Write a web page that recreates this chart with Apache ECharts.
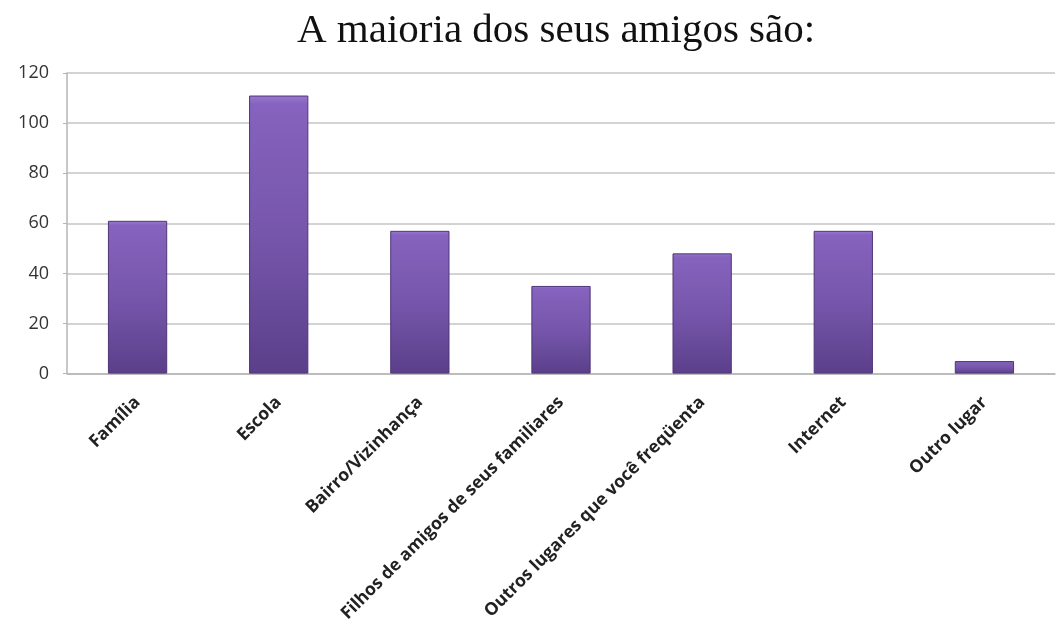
<!DOCTYPE html>
<html>
<head>
<meta charset="utf-8">
<script src="https://cdn.jsdelivr.net/npm/echarts@6/dist/echarts.min.js"></script>
<style>html,body{margin:0;padding:0;background:#fff}#c{width:1057px;height:625px}</style>
</head>
<body>
<div id="c"></div>
<script>
const titleText = 'A maioria dos seus amigos são:';
const categories = ['Família', 'Escola', 'Bairro/Vizinhança', 'Filhos de amigos de seus familiares', 'Outros lugares que você freqüenta', 'Internet', 'Outro lugar'];
const values = [61, 111, 57, 35, 48, 57, 5];
const yTicks = { min: 0, max: 120, interval: 20 };

const chart = echarts.init(document.getElementById('c'), null, { renderer: 'canvas' });
chart.setOption({
  animation: false,
  backgroundColor: '#ffffff',
  title: {
    text: titleText,
    left: 292,
    top: 6,
    textStyle: { fontFamily: 'Liberation Serif, DejaVu Serif, serif', fontSize: 41, fontWeight: 'normal', color: '#111' }
  },
  grid: { left: 67, right: 2, top: 73, bottom: 250, containLabel: false },
  xAxis: {
    type: 'category',
    data: categories,
    axisLine: { show: true, lineStyle: { color: '#b5b5b5', width: 1.5 } },
    axisTick: { show: false },
    axisLabel: {
      rotate: 45,
      interval: 0,
      margin: 26,
      fontFamily: 'Open Sans, Liberation Sans, sans-serif',
      fontWeight: 'bold',
      fontSize: 17.5,
      color: '#222'
    }
  },
  yAxis: {
    type: 'value',
    min: yTicks.min,
    max: yTicks.max,
    interval: yTicks.interval,
    axisLine: { show: true, lineStyle: { color: '#b5b5b5', width: 1.5 } },
    axisTick: { show: true, length: 4, lineStyle: { color: '#b5b5b5' } },
    splitLine: { lineStyle: { color: '#c4c4c4', width: 1.5 } },
    axisLabel: {
      margin: 18,
      fontFamily: 'Open Sans, Liberation Sans, sans-serif',
      fontSize: 18,
      color: '#333'
    }
  },
  series: [{
    type: 'bar',
    data: values,
    barWidth: '42%',
    itemStyle: {
      color: new echarts.graphic.LinearGradient(0, 0, 0, 1, [
        { offset: 0, color: '#9a7ad0' },
        { offset: 0.03, color: '#8663be' },
        { offset: 0.5, color: '#7656ab' },
        { offset: 1, color: '#5b3f8a' }
      ]),
      borderColor: '#4e3577',
      borderWidth: 1
    }
  }]
});
</script>
</body>
</html>
